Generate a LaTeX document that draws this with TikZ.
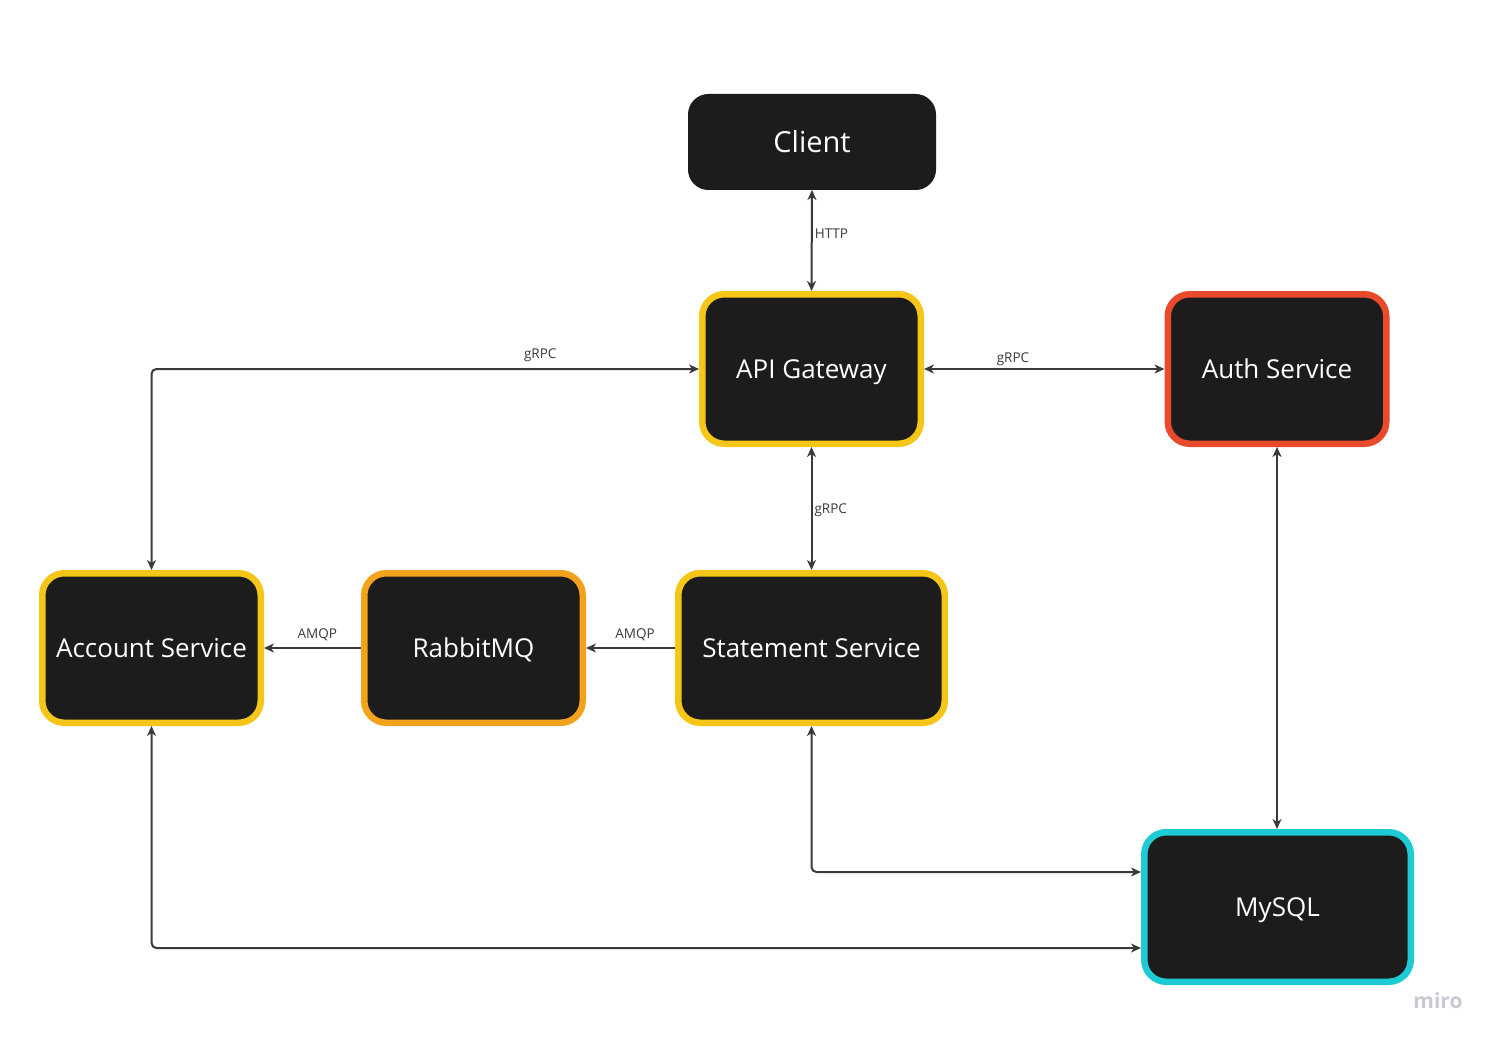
\documentclass[tikz,border=0pt]{standalone}
\usepackage{fontspec}
\setmainfont{Open Sans}
\usetikzlibrary{arrows.meta,calc}
\definecolor{boxfill}{HTML}{1C1C1C}
\definecolor{yel}{HTML}{F5C518}
\definecolor{org}{HTML}{F2A31B}
\definecolor{redb}{HTML}{E84A2B}
\definecolor{cyan}{HTML}{1ECAD3}
\definecolor{conncol}{HTML}{3A3A3A}
\definecolor{lblcol}{HTML}{3A3A3A}
\definecolor{wm}{HTML}{C9C9D3}
\tikzset{
  svc/.style={draw=#1, fill=boxfill, line width=6.5pt, rounded corners=22pt,
    text=white, font=\fontsize{26}{30}\selectfont, inner sep=0pt,
    text height=18.7pt, text depth=0pt,
    minimum width=218.5pt, minimum height=149.5pt},
  conn/.style={draw=conncol, line width=2pt, rounded corners=5pt,
    arrows={Stealth[length=10pt,width=9pt,inset=3pt]-Stealth[length=10pt,width=9pt,inset=3pt]}},
  oneway/.style={draw=conncol, line width=2pt,
    arrows={-Stealth[length=10pt,width=9pt,inset=3pt]}},
  lbl/.style={text=lblcol, font=\fontsize{13.5}{16}\selectfont, inner sep=1pt}
}
\begin{document}
\begin{tikzpicture}[x=1pt,y=-1pt]
\useasboundingbox[fill=white] (0,0) rectangle (1496,1043);

\node[svc=boxfill, line width=1pt, minimum width=247pt, minimum height=95pt,
  rounded corners=20pt, font=\fontsize{29}{34}\selectfont, text height=20.9pt] (client) at (812,142) {Client};
\node[svc=yel] (api) at (811.5,369) {API Gateway};
\node[svc=redb] (auth) at (1277,369) {Auth Service};
\node[svc=yel] (acc) at (151.5,648) {Account Service};
\node[svc=org] (rmq) at (473.5,648) {RabbitMQ};
\node[svc=yel, minimum width=266.5pt] (stmt) at (811.5,648) {Statement Service};
\node[svc=cyan, minimum width=266.5pt] (mysql) at (1277.5,907) {MySQL};

% connectors
\draw[conn] (client.south) -- node[lbl, right, pos=0.43, xshift=1pt]{HTTP} (api.north);
\draw[conn] (api.west) -- node[lbl, above, pos=0.29, yshift=5pt]{gRPC} (api.west -| acc.north) -- (acc.north);
\draw[conn] (api.east) -- node[lbl, above, pos=0.37, yshift=1pt]{gRPC} (auth.west);
\draw[conn] (api.south) -- node[lbl, right, pos=0.5, xshift=1pt, yshift=-2pt]{gRPC} (stmt.north);
\draw[oneway] (stmt.west) -- node[lbl, above, pos=0.45, yshift=5pt]{AMQP} (rmq.east);
\draw[oneway] (rmq.west) -- node[lbl, above, pos=0.45, yshift=5pt]{AMQP} (acc.east);
\draw[conn] (auth.south) -- (mysql.north -| auth.south);
\coordinate (m1) at ([yshift=35pt]mysql.west);
\coordinate (m2) at ([yshift=-41pt]mysql.west);
\draw[conn] (stmt.south) -- (stmt.south |- m1) -- (m1);
\draw[conn] (acc.south) -- (acc.south |- m2) -- (m2);

\node[text=wm, font=\fontsize{21}{24}\selectfont\bfseries] (miro) at (1438,1001) {miro};
\end{tikzpicture}
\end{document}
